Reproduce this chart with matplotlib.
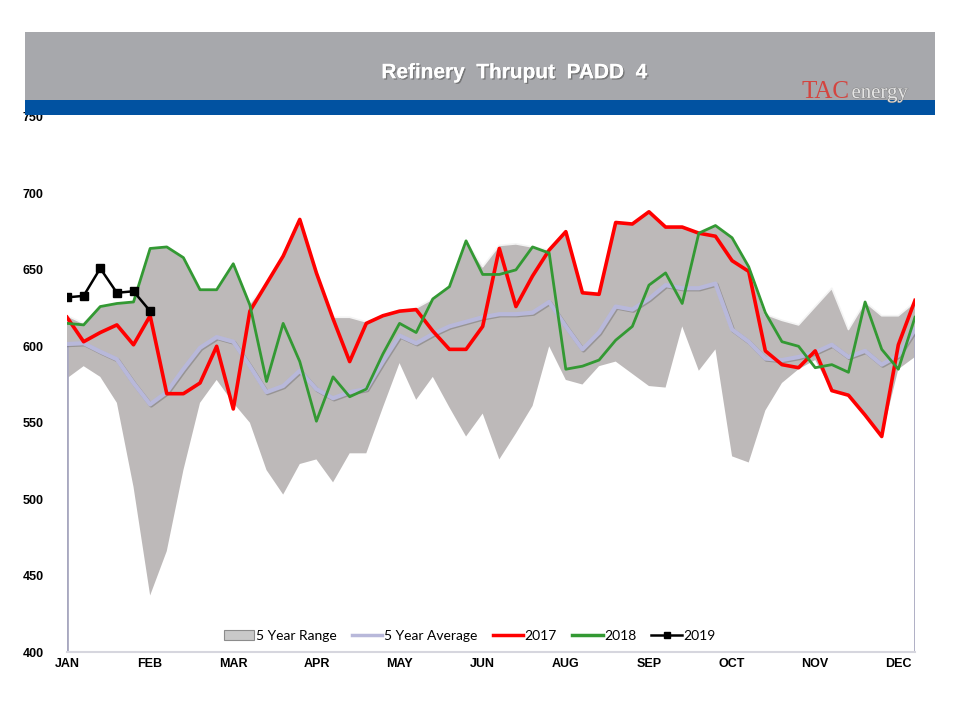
import numpy as np
import matplotlib.pyplot as plt
from matplotlib.patches import Rectangle, Patch
from matplotlib.lines import Line2D
import matplotlib.patheffects as pe

# weekly refinery thruput, PADD 4 (kb/d)
month_labels = ['JAN', 'FEB', 'MAR', 'APR', 'MAY', 'JUN', 'AUG', 'SEP', 'OCT', 'NOV', 'DEC']

range_low = [579, 587, 580, 563, 508, 437, 466, 519, 563, 578, 563, 550, 519,
             503, 523, 526, 511, 530, 530, 560, 589, 565, 580, 560, 541, 556,
             526, 543, 561, 600, 578, 575, 587, 590, 582, 574, 573, 613, 584,
             598, 528, 524, 558, 576, 585, 591, 571, 568, 555, 541, 585, 593]
range_high = [620, 615, 626, 628, 629, 664, 665, 658, 637, 637, 654, 628, 641,
              659, 683, 648, 619, 619, 616, 620, 623, 625, 631, 639, 669, 652,
              666, 667, 665, 663, 675, 636, 635, 681, 680, 688, 678, 678, 675,
              679, 671, 652, 621, 617, 614, 626, 638, 611, 629, 620, 620, 629]
avg_5yr = [601.5, 602, 596.5, 591.5, 576, 562, 570, 585, 599, 606, 603, 587, 570,
           574, 584, 572, 566, 570, 572, 590, 607, 602, 608, 613, 616, 619,
           621, 621, 622, 629, 613, 598, 609, 626, 624, 631, 640, 638, 638,
           641, 611, 603, 592, 591, 593, 596, 601, 593, 597, 588, 594, 611]
y2017 = [619, 603, 609, 614, 601, 620, 569, 569, 576, 600, 559, 623, 641,
         659, 683, 648, 618, 590, 615, 620, 623, 624, 610, 598, 598, 613,
         664, 626, 646, 663, 675, 635, 634, 681, 680, 688, 678, 678, 674,
         672, 656, 649, 597, 588, 586, 597, 571, 568, 555, 541, 601, 630]
y2018 = [615, 614, 626, 628, 629, 664, 665, 658, 637, 637, 654, 627, 577,
         615, 590, 551, 580, 567, 572, 595, 615, 609, 631, 639, 669, 647,
         647, 650, 665, 661, 585, 587, 591, 604, 613, 640, 648, 628, 674,
         679, 671, 652, 622, 603, 600, 586, 588, 583, 629, 598, 585, 619]
y2019 = [632, 633, 651, 635, 636, 623]

weeks = np.arange(len(y2017))

fig = plt.figure(figsize=(9.6, 7.2), dpi=100)

# header band with title and logo
fig.patches.append(Rectangle((0.026, 0.861), 0.948, 0.095, transform=fig.transFigure,
                             facecolor='#a7a8ac', edgecolor='none', zorder=0))
fig.patches.append(Rectangle((0.026, 0.840), 0.948, 0.021, transform=fig.transFigure,
                             facecolor='#0152a1', edgecolor='none', zorder=0))
fig.text(0.536, 0.899, 'Refinery  Thruput  PADD  4', color='white', fontsize=15,
         fontweight='bold', family='Liberation Sans', ha='center', va='center',
         path_effects=[pe.withSimplePatchShadow(offset=(1, -1), shadow_rgbFace='#555555', alpha=0.6),
                       pe.Normal()])
fig.text(0.835, 0.864, 'TAC', color='#d4443f', fontsize=18, family='Liberation Serif',
         ha='left', va='baseline')
fig.text(0.887, 0.864, 'energy', color='#e4e4e4', fontsize=15, family='Liberation Serif',
         ha='left', va='baseline',
         path_effects=[pe.withStroke(linewidth=0.7, foreground='#808080')])

ax = fig.add_axes([0.0698, 0.0944, 0.8833, 0.7431])

# 5 year range band
ax.fill_between(weeks, range_low, range_high, facecolor='#bdb9b9', edgecolor='none', zorder=1)
ax.plot(weeks, range_high, color='#f4f4f4', lw=1.2, zorder=1.5)
ax.vlines([weeks[0], weeks[-1]], 400, [avg_5yr[0], avg_5yr[-1]], color='#a8a8c0', lw=2, zorder=1.6)

ax.plot(weeks, avg_5yr, color='#b8b8da', lw=3.0, zorder=2,
        path_effects=[pe.SimpleLineShadow(offset=(0.8, -0.8), alpha=0.2), pe.Normal()])
ax.plot(weeks, y2017, color='#ff0000', lw=2.6, zorder=3)
ax.plot(weeks, y2018, color='#339933', lw=2.0, zorder=4)
ax.plot(weeks[:len(y2019)], y2019, color='black', lw=1.8, marker='s', markersize=6, zorder=5)

ax.set_xlim(0, len(weeks) - 1)
ax.set_ylim(400, 750)
ax.set_yticks(np.arange(400, 751, 50))
ax.set_xticks(np.arange(0, 51, 5))
ax.set_xticklabels(month_labels)
for lab in ax.get_xticklabels() + ax.get_yticklabels():
    lab.set_fontweight('bold')
    lab.set_family('Liberation Sans')
    lab.set_fontsize(9)
ax.tick_params(axis='y', length=0, pad=17)
ax.tick_params(axis='x', length=0, pad=4)
for s in ['top', 'right', 'left']:
    ax.spines[s].set_visible(False)
ax.spines['bottom'].set_color('#d6d6de')
ax.spines['bottom'].set_linewidth(1.5)

handles = [Patch(facecolor='#c9c9c9', edgecolor='#8c8c8c', linewidth=0.8),
           Line2D([], [], color='#b8b8da', lw=2.5),
           Line2D([], [], color='#ff0000', lw=2.5),
           Line2D([], [], color='#339933', lw=2.5),
           Line2D([], [], color='black', lw=1.8, marker='s', markersize=5)]
ax.legend(handles, ['5 Year Range', '5 Year Average', '2017', '2018', '2019'],
          loc='center', bbox_to_anchor=(0.475, 0.03), ncol=5, frameon=False,
          prop={'family': 'Lato', 'size': 10}, handlelength=2.2,
          handletextpad=0.1, columnspacing=1.1)

fig.savefig('out.png', dpi=100)
